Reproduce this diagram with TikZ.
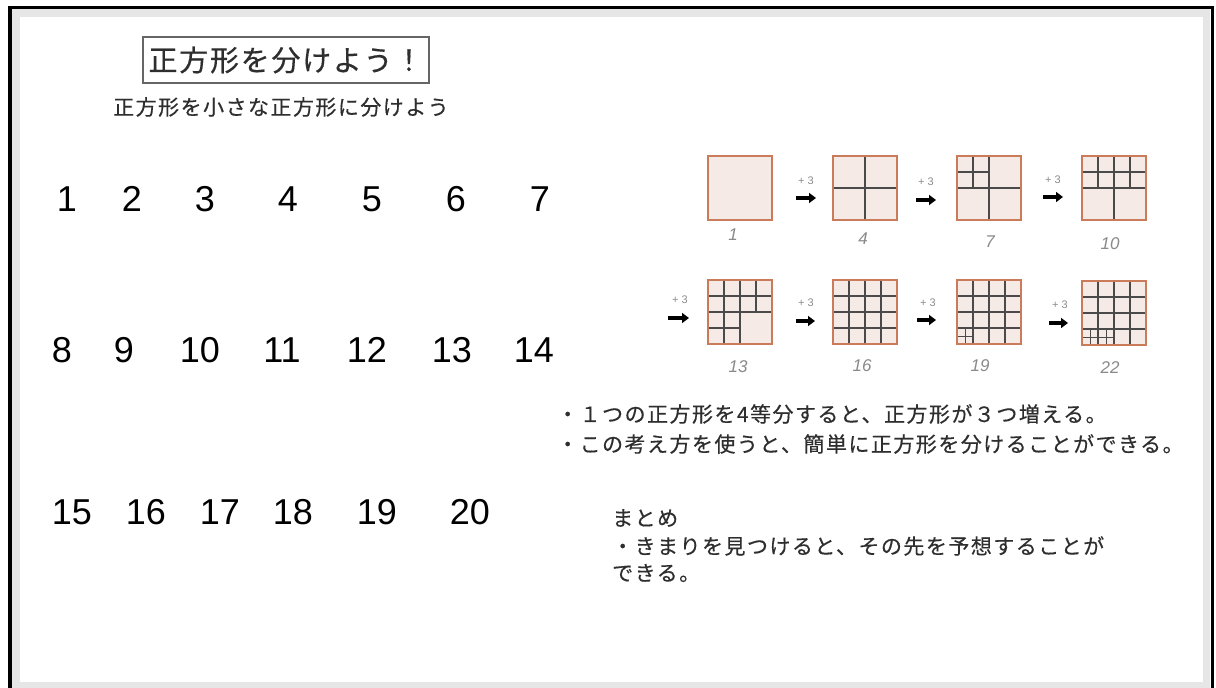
\documentclass[tikz,border=0pt]{standalone}
\usepackage{fontspec}
\setmainfont{Liberation Sans}
\newfontfamily\jp[LetterSpace=7,FakeBold=0.4]{Noto Sans CJK JP}
\newfontfamily\jptitle[LetterSpace=6,FakeBold=0.4]{Noto Sans CJK JP}
\usetikzlibrary{arrows.meta}
\definecolor{sqfill}{HTML}{F5EAE6}
\definecolor{sqedge}{HTML}{C97B5A}
\definecolor{gridc}{HTML}{4A4A4A}
\definecolor{txt}{HTML}{2E2E2E}
\definecolor{framegray}{HTML}{E6E6E6}
\definecolor{handc}{HTML}{8A8A8A}
\begin{document}
\begin{tikzpicture}[x=1pt,y=-1pt,
  sq/.style={fill=sqfill,minimum width=64,minimum height=64,inner sep=0,outer sep=0},
  sqborder/.style={draw=sqedge,line width=1.8},
  gl/.style={draw=gridc,line width=1.3},
  arr/.style={-{Triangle[length=7,width=10]},line width=3.6,black},
  plus/.style={font=\fontsize{11}{12}\selectfont,text=gray!90,inner sep=0},
  hand/.style={font=\fontsize{17}{18}\selectfont\itshape,text=handc,inner sep=0},
  num/.style={font=\fontsize{36}{40}\selectfont,inner sep=0},
  jpline/.style={font=\fontsize{21}{23}\selectfont\jp,text=txt,anchor=west,inner sep=0}]
\useasboundingbox (0,0) rectangle (1216,688);
\fill[white] (0,0) rectangle (1216,688);
% frame
\fill[framegray] (11,9) rectangle (1210,688);
\fill[white] (20,17) rectangle (1203,682);
\draw[line width=3.5,black] (9.8,688) -- (9.8,7.5) -- (1212.5,7.5) -- (1212.5,688);

% title
\node[draw=gray!80!black,line width=1.2,minimum width=286,minimum height=46,inner sep=0,
  font=\fontsize{29}{31}\selectfont\jptitle,text=txt] (title) at (286,60) {正方形を分けよう！};
\node[jpline,anchor=center] (sub) at (281,107) {正方形を小さな正方形に分けよう};

% numbers
\node[num] (n1) at (67,199) {1};
\node[num] (n2) at (132,199) {2};
\node[num] (n3) at (205,199) {3};
\node[num] (n4) at (288,199) {4};
\node[num] (n5) at (372,199) {5};
\node[num] (n6) at (456,199) {6};
\node[num] (n7) at (540,199) {7};
\node[num] (n8) at (62,350) {8};
\node[num] (n9) at (124,350) {9};
\node[num] (n10) at (200,350) {10};
\node[num] (n11) at (282,350) {11};
\node[num] (n12) at (367,350) {12};
\node[num] (n13) at (452,350) {13};
\node[num] (n14) at (534,350) {14};
\node[num] (n15) at (72,512) {15};
\node[num] (n16) at (146,512) {16};
\node[num] (n17) at (220,512) {17};
\node[num] (n18) at (293,512) {18};
\node[num] (n19) at (377,512) {19};
\node[num] (n20) at (470,512) {20};

% squares row 1
\node[sq] (s1) at (740,188) {};
\node[sq] (s4) at (865,188) {};
\node[sq] (s7) at (989,188) {};
\node[sq] (s10) at (1114,188) {};
% squares row 2
\node[sq] (s13) at (740,312) {};
\node[sq] (s16) at (865,312) {};
\node[sq] (s19) at (989,312) {};
\node[sq] (s22) at (1114,313) {};

% grids
\begin{scope}[shift={(s4.north west)}]
  \draw[gl] (32,0) -- (32,64) (0,32) -- (64,32);
\end{scope}
\begin{scope}[shift={(s7.north west)}]
  \draw[gl] (32,0) -- (32,64) (0,32) -- (64,32) (16,0) -- (16,32) (0,16) -- (32,16);
\end{scope}
\begin{scope}[shift={(s10.north west)}]
  \draw[gl] (32,0) -- (32,64) (0,32) -- (64,32) (16,0) -- (16,32) (48,0) -- (48,32) (0,16) -- (64,16);
\end{scope}
\begin{scope}[shift={(s13.north west)}]
  \draw[gl] (16,0) -- (16,64) (32,0) -- (32,64) (48,0) -- (48,32)
            (0,16) -- (64,16) (0,32) -- (64,32) (0,48) -- (32,48);
\end{scope}
\foreach \s in {s16,s19,s22}{
  \begin{scope}[shift={(\s.north west)}]
    \draw[gl] (16,0) -- (16,64) (32,0) -- (32,64) (48,0) -- (48,64)
              (0,16) -- (64,16) (0,32) -- (64,32) (0,48) -- (64,48);
  \end{scope}
}
\begin{scope}[shift={(s19.north west)}]
  \draw[gl,line width=1] (8,48) -- (8,64) (0,56) -- (16,56);
\end{scope}
\begin{scope}[shift={(s22.north west)}]
  \draw[gl,line width=1] (8,48) -- (8,64) (24,48) -- (24,64) (0,56) -- (32,56);
\end{scope}
\foreach \s in {s1,s4,s7,s10,s13,s16,s19,s22}{
  \draw[sqborder] (\s.north west) rectangle (\s.south east);
}

% arrows row 1
\coordinate (a1s) at (796,198); \coordinate (a1e) at (816,198);
\coordinate (a2s) at (916,200); \coordinate (a2e) at (936,200);
\coordinate (a3s) at (1043,197); \coordinate (a3e) at (1063,197);
% arrows row 2
\coordinate (a4s) at (668,318); \coordinate (a4e) at (689,318);
\coordinate (a5s) at (796,321); \coordinate (a5e) at (815,321);
\coordinate (a6s) at (917,320); \coordinate (a6e) at (936,320);
\coordinate (a7s) at (1049,323); \coordinate (a7e) at (1068,323);
\foreach \a in {a1,a2,a3,a4,a5,a6,a7}{
  \draw[arr] (\a s) -- (\a e);
}
\node[plus] (p1) at (806,181) {+ 3};
\node[plus] (p2) at (926,182) {+ 3};
\node[plus] (p3) at (1053,180) {+ 3};
\node[plus] (p4) at (680,300) {+ 3};
\node[plus] (p5) at (806,303) {+ 3};
\node[plus] (p6) at (928,303) {+ 3};
\node[plus] (p7) at (1060,305) {+ 3};

% hand-written counts
\node[hand] (h1) at (733,235) {1};
\node[hand] (h4) at (863,239) {4};
\node[hand] (h7) at (990,242) {7};
\node[hand] (h10) at (1110,244) {10};
\node[hand] (h13) at (738,367) {13};
\node[hand] (h16) at (862,366) {16};
\node[hand] (h19) at (980,366) {19};
\node[hand] (h22) at (1110,368) {22};

% statements
\node[jpline] (st1) at (557,414) {・１つの正方形を4等分すると、正方形が３つ増える。};
\node[jpline] (st2) at (557,444) {・この考え方を使うと、簡単に正方形を分けることができる。};

% summary
\node[jpline] (m1) at (612,518) {まとめ};
\node[jpline] (m2) at (612,546) {・きまりを見つけると、その先を予想することが};
\node[jpline] (m3) at (612,573) {できる。};
\end{tikzpicture}
\end{document}
